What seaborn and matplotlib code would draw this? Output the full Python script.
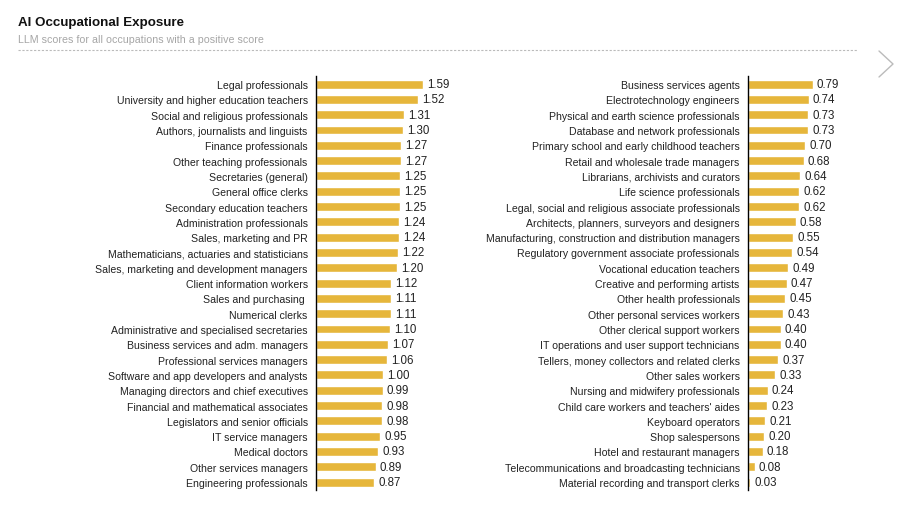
import seaborn as sns
import matplotlib.pyplot as plt
import pandas as pd
from matplotlib.lines import Line2D

left_jobs = ["Legal professionals", "University and higher education teachers",
             "Social and religious professionals", "Authors, journalists and linguists",
             "Finance professionals", "Other teaching professionals", "Secretaries (general)",
             "General office clerks", "Secondary education teachers", "Administration professionals",
             "Sales, marketing and PR", "Mathematicians, actuaries and statisticians",
             "Sales, marketing and development managers", "Client information workers",
             "Sales and purchasing ", "Numerical clerks", "Administrative and specialised secretaries",
             "Business services and adm. managers", "Professional services managers",
             "Software and app developers and analysts", "Managing directors and chief executives",
             "Financial and mathematical associates", "Legislators and senior officials",
             "IT service managers", "Medical doctors", "Other services managers",
             "Engineering professionals"]
left_scores = [1.59, 1.52, 1.31, 1.30, 1.27, 1.27, 1.25, 1.25, 1.25, 1.24, 1.24, 1.22, 1.20,
               1.12, 1.11, 1.11, 1.10, 1.07, 1.06, 1.00, 0.99, 0.98, 0.98, 0.95, 0.93, 0.89, 0.87]

right_jobs = ["Business services agents", "Electrotechnology engineers",
              "Physical and earth science professionals", "Database and network professionals",
              "Primary school and early childhood teachers", "Retail and wholesale trade managers",
              "Librarians, archivists and curators", "Life science professionals",
              "Legal, social and religious associate professionals",
              "Architects, planners, surveyors and designers",
              "Manufacturing, construction and distribution managers",
              "Regulatory government associate professionals", "Vocational education teachers",
              "Creative and performing artists", "Other health professionals",
              "Other personal services workers", "Other clerical support workers",
              "IT operations and user support technicians", "Tellers, money collectors and related clerks",
              "Other sales workers", "Nursing and midwifery professionals",
              "Child care workers and teachers' aides", "Keyboard operators", "Shop salespersons",
              "Hotel and restaurant managers", "Telecommunications and broadcasting technicians",
              "Material recording and transport clerks"]
right_scores = [0.79, 0.74, 0.73, 0.73, 0.70, 0.68, 0.64, 0.62, 0.62, 0.58, 0.55, 0.54, 0.49,
                0.47, 0.45, 0.43, 0.40, 0.40, 0.37, 0.33, 0.24, 0.23, 0.21, 0.20, 0.18, 0.08, 0.03]

bar_color = "#E6B63B"

sns.set_style("white")
plt.rcParams["font.family"] = ["Liberation Sans", "DejaVu Sans"]

fig = plt.figure(figsize=(9.14, 5.10), dpi=100)

bottom, height = 0.0378, 0.8104
ax1 = fig.add_axes([0.3457, bottom, 0.1324, height])
ax2 = fig.add_axes([0.8184, bottom, 0.0897, height])

for ax, jobs, scores, xmax in [(ax1, left_jobs, left_scores, 1.8),
                               (ax2, right_jobs, right_scores, 1.0)]:
    df = pd.DataFrame({"job": jobs, "score": scores})
    sns.barplot(data=df, y="job", x="score", color=bar_color, width=0.58,
                saturation=1, ax=ax)
    ax.set_xlim(0, xmax)
    ax.set_ylim(len(jobs) - 0.5, -0.5)
    ax.set_xlabel("")
    ax.set_ylabel("")
    ax.set_xticks([])
    for s in ["top", "right", "bottom"]:
        ax.spines[s].set_visible(False)
    ax.spines["left"].set_color("black")
    ax.spines["left"].set_linewidth(1.0)
    ax.tick_params(axis="y", length=0, pad=6, labelsize=7.6, labelcolor="#222222")
    ax.patch.set_alpha(0)
    for i, v in enumerate(scores):
        ax.annotate(f"{v:.2f}", (v, i), xytext=(3, 0), textcoords="offset points",
                    va="center", ha="left", fontsize=8.3, color="#222222")

fig.text(18 / 914, 1 - 23 / 510, "AI Occupational Exposure", fontsize=9.6, fontweight="bold",
         color="#111111", va="center", ha="left")
fig.text(18 / 914, 1 - 40 / 510, "LLM scores for all occupations with a positive score",
         fontsize=7.7, color="#a6a6a6", va="center", ha="left")
fig.add_artist(Line2D([18 / 914, 858 / 914], [1 - 51 / 510, 1 - 51 / 510],
                      transform=fig.transFigure, color="#bbbbbb", lw=0.8, ls=(0, (2, 1.5))))
fig.add_artist(Line2D([879 / 914, 893 / 914, 879 / 914],
                      [1 - 52 / 510, 1 - 65 / 510, 1 - 78 / 510],
                      transform=fig.transFigure, color="#bbbbbb", lw=1.0))

fig.savefig("out.png", dpi=100)
